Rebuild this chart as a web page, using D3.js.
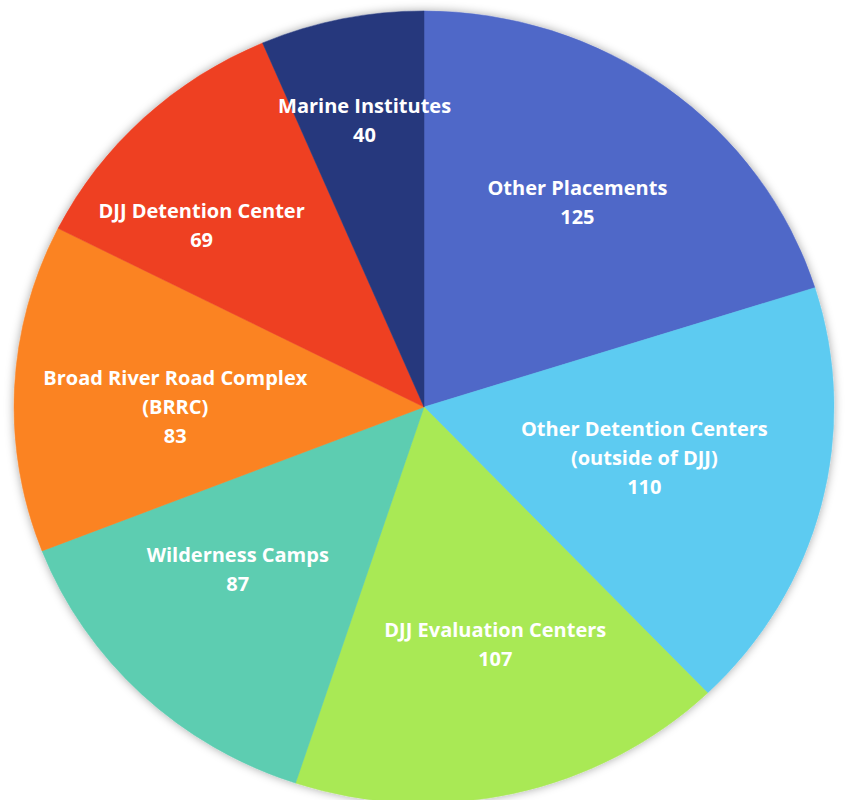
<!DOCTYPE html>
<html>
<head>
<meta charset="utf-8">
<script src="https://cdn.jsdelivr.net/npm/d3@7"></script>
<style>
  body { margin: 0; background: #fff; }
  svg text { font-family: "Open Sans", sans-serif; font-weight: 700; fill: #fff; }
</style>
</head>
<body>
<div class="chart-box"></div>
<script>
let width = 845;
let height = 800;

let categories = [
  ["Other Placements"],
  ["Other Detention Centers", "(outside of DJJ)"],
  ["DJJ Evaluation Centers"],
  ["Wilderness Camps"],
  ["Broad River Road Complex", "(BRRC)"],
  ["DJJ Detention Center"],
  ["Marine Institutes"]
];
let values = [125, 110, 107, 87, 83, 69, 40];
let colors = ["#5068c8", "#5dcbf1", "#a9e955", "#5dcdb1", "#fb8322", "#ee4124", "#27397d"];

let cx = 424, cy = 407;
let radius = 410;
let squash = 0.966;   // picture is a touch flatter than round
// hand nudges so labels sit where the reference puts them
let nudge = [[8, -13], [-18, -8], [17, 6], [-17, -10], [-3, 11], [-54, -8], [-10, -54]];

let svg = d3.select('.chart-box')
  .append('svg')
  .attr('width', width)
  .attr('height', height)

let defs = svg.append("defs");
let f = defs.append("filter").attr("id", "shadow")
  .attr("x", "-10%").attr("y", "-10%").attr("width", "120%").attr("height", "120%");
f.append("feDropShadow")
  .attr("dx", 0).attr("dy", 0)
  .attr("stdDeviation", 5)
  .attr("flood-color", "#000")
  .attr("flood-opacity", 0.35);

let pie = d3.pie().sort(null).value(d => d)(values);
let arc = d3.arc().innerRadius(0).outerRadius(radius);

let g = svg.append("g")
  .attr("transform", `translate(${cx},${cy}) scale(1,${squash})`)
  .attr("filter", "url(#shadow)");

g.selectAll("path")
  .data(pie)
  .enter()
  .append("path")
  .attr("d", arc)
  .style("fill", (d, i) => colors[i])
  .style("stroke", (d, i) => colors[i])
  .style("stroke-width", 0.5)

let lineH = 29;
let labels = svg.append("g");

pie.forEach(function (d, i) {
  let a = (d.startAngle + d.endAngle) / 2;
  let r = radius * 0.6;
  let x = cx + Math.sin(a) * r + nudge[i][0];
  let y = cy - Math.cos(a) * r * squash + nudge[i][1];
  let lines = categories[i].concat([String(values[i])]);
  let top = y - (lines.length - 1) * lineH / 2;
  let t = labels.append("text")
    .attr("text-anchor", "middle")
    .style("font-size", "20px");
  lines.forEach(function (s, j) {
    t.append("tspan")
      .attr("x", x)
      .attr("y", top + j * lineH)
      .attr("dy", "0.35em")
      .text(s);
  });
});
</script>
</body>
</html>
